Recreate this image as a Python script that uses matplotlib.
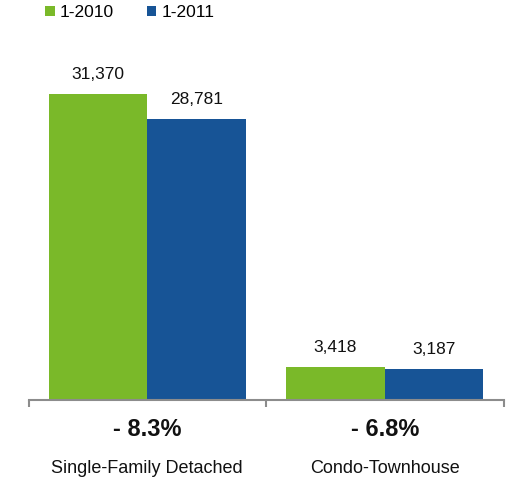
import matplotlib
matplotlib.use("Agg")
import matplotlib.pyplot as plt
import matplotlib.transforms as mtransforms
from matplotlib.patches import Patch
import numpy as np

plt.rcParams['font.family'] = ['Liberation Sans', 'DejaVu Sans']

categories = ["Single-Family Detached", "Condo-Townhouse"]
series_names = ["1-2010", "1-2011"]
values_2010 = [31370, 3418]
values_2011 = [28781, 3187]
changes = ["- 8.3%", "- 6.8%"]
colors = ["#7AB929", "#175496"]

W, H = 512, 478
fig = plt.figure(figsize=(W / 100, H / 100), dpi=100)
ax_left, ax_right = 28.5 / W, 503.5 / W
ax_bottom = (H - 400) / H
ymax = 35000
ax_h_px = ymax / 31370 * 306
ax = fig.add_axes([ax_left, ax_bottom, ax_right - ax_left, ax_h_px / H])

x = np.arange(len(categories))
bw = 0.415
b1 = ax.bar(x - bw / 2, values_2010, bw, color=colors[0], label=series_names[0])
b2 = ax.bar(x + bw / 2, values_2011, bw, color=colors[1], label=series_names[1])

for bars in (b1, b2):
    for rect in bars:
        v = rect.get_height()
        ax.annotate(f"{v:,.0f}", (rect.get_x() + rect.get_width() / 2, v),
                    xytext=(0, 14), textcoords="offset points",
                    ha="center", va="center", fontsize=12.5, color="#111111")

ax.set_xlim(-0.5, len(categories) - 0.5)
ax.set_ylim(0, ymax)
for s in ["top", "right", "left"]:
    ax.spines[s].set_visible(False)
ax.spines["bottom"].set_color("#8c8c8c")
ax.spines["bottom"].set_linewidth(1.5)
ax.set_yticks([])
ax.set_xticks([-0.5, 0.5, 1.5])
ax.set_xticklabels([])
ax.tick_params(axis="x", length=5, width=1.5, color="#8c8c8c", direction="out")

trans = mtransforms.blended_transform_factory(ax.transData, ax.transAxes)
for i, (c, ch) in enumerate(zip(categories, changes)):
    ax.annotate(ch, (i, 0), xycoords=trans, xytext=(0, -21.5), textcoords="offset points",
                ha="center", va="center", fontsize=17, fontweight="bold", color="#111111")
    ax.annotate(c, (i, 0), xycoords=trans, xytext=(0, -49), textcoords="offset points",
                ha="center", va="center", fontsize=13, color="#111111")

handles = [Patch(facecolor=colors[0]), Patch(facecolor=colors[1])]
fig.legend(handles, series_names, loc="upper left", bbox_to_anchor=(45 / W, 1.0 - 5 / H),
           ncol=2, frameon=False, fontsize=12.5, handlelength=0.55, handleheight=0.55,
           handletextpad=0.3, columnspacing=1.9, borderpad=0, borderaxespad=0)

fig.savefig("out.png", dpi=100)
